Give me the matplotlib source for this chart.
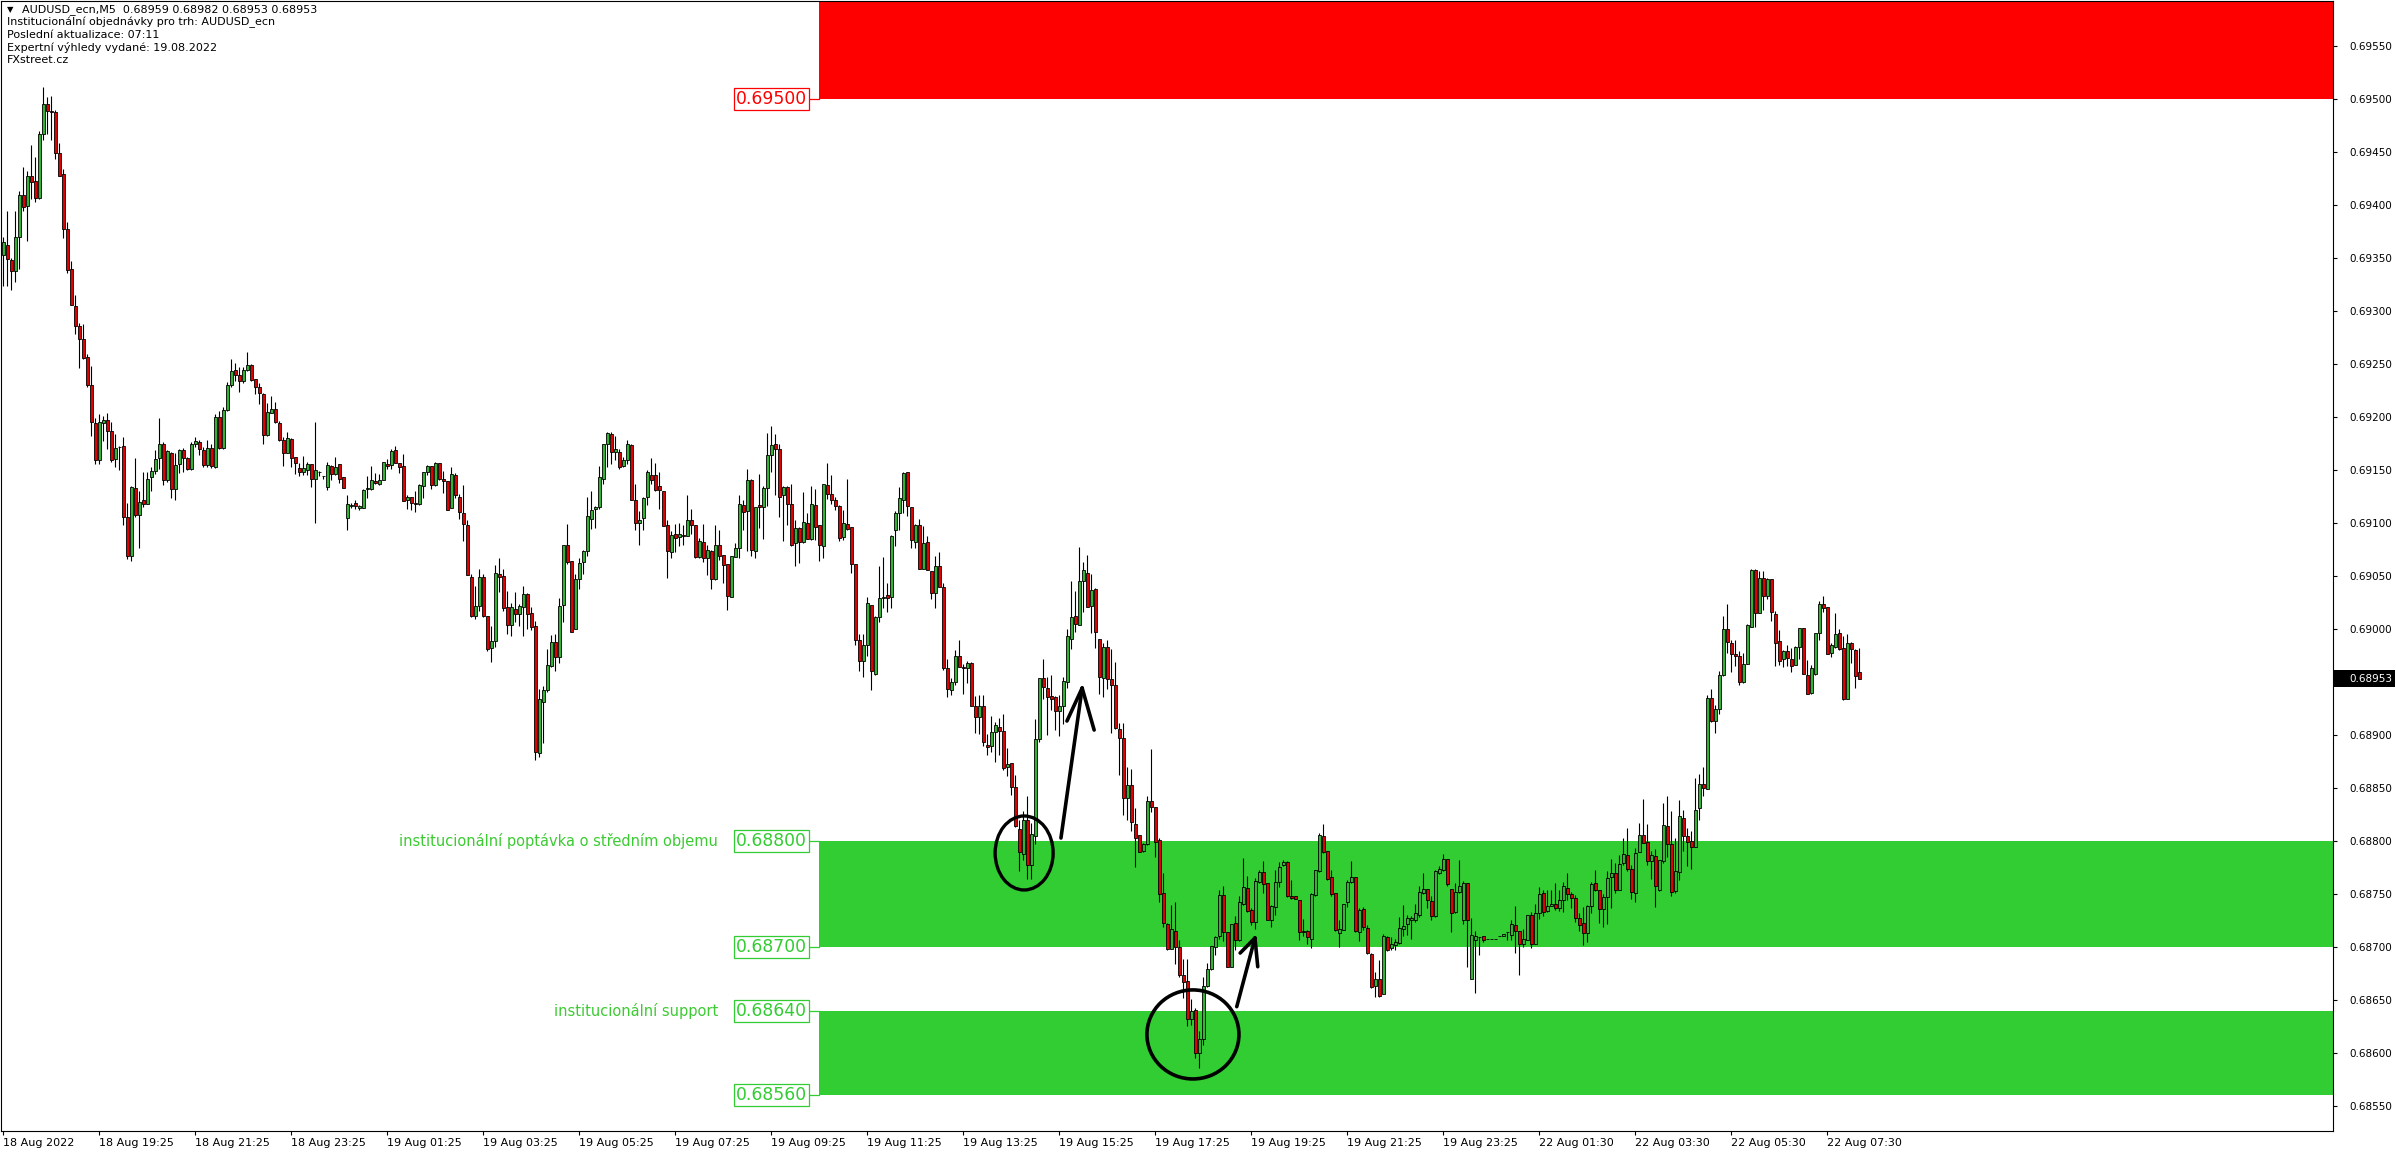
import matplotlib
matplotlib.use('Agg')
import matplotlib.pyplot as plt
import matplotlib.transforms as mtransforms
from matplotlib.patches import Rectangle, Ellipse
import numpy as np

# AUDUSD M5 candles, prices in points (1e-5)
opens = [
    69353, 69362, 69348, 69338, 69370, 69409, 69399, 69427, 69423, 69407,
    69467, 69495, 69489, 69488, 69449, 69429, 69377, 69340, 69305, 69286,
    69274, 69257, 69230, 69194, 69159, 69194, 69197, 69187, 69160, 69172,
    69173, 69106, 69069, 69133, 69108, 69122, 69118, 69143, 69149, 69161,
    69175, 69141, 69166, 69132, 69156, 69169, 69161, 69151, 69175, 69176,
    69169, 69155, 69171, 69153, 69200, 69171, 69207, 69230, 69244, 69240,
    69234, 69244, 69249, 69236, 69228, 69222, 69183, 69204, 69208, 69194,
    69178, 69166, 69179, 69162, 69152, 69148, 69150, 69156, 69142, 69148,
    69144, 69134, 69154, 69146, 69156, 69143, 69105, 69116, 69119, 69114,
    69114, 69132, 69132, 69140, 69137, 69141, 69156, 69155, 69169, 69157,
    69154, 69122, 69125, 69119, 69118, 69135, 69148, 69154, 69136, 69157,
    69142, 69140, 69114, 69145, 69125, 69109, 69098, 69049, 69012, 69022,
    69049, 69012, 68982, 68989, 69052, 69050, 69021, 69004, 69019, 69014,
    69021, 69033, 69015, 69003, 68883, 68931, 68942, 68965, 68988, 68974,
    69023, 69079, 69064, 69000, 69047, 69063, 69074, 69104, 69113, 69115,
    69142, 69175, 69184, 69167, 69167, 69154, 69159, 69174, 69122, 69100,
    69105, 69125, 69145, 69145, 69135, 69130, 69098, 69073, 69090, 69087,
    69089, 69088, 69103, 69098, 69068, 69082, 69067, 69074, 69047, 69079,
    69070, 69061, 69030, 69068, 69076, 69117, 69111, 69141, 69074, 69117,
    69115, 69133, 69164, 69175, 69170, 69126, 69134, 69118, 69081, 69095,
    69082, 69100, 69085, 69117, 69098, 69078, 69136, 69127, 69122, 69116,
    69087, 69099, 69096, 69061, 68990, 68970, 68985, 69023, 68958, 69011,
    69029, 69032, 69030, 69093, 69109, 69122, 69148, 69115, 69082, 69098,
    69057, 69082, 69055, 69034, 69059, 69040, 68963, 68942, 68950, 68975,
    68964, 68963, 68968, 68927, 68917, 68927, 68891, 68890, 68903, 68908,
    68904, 68870, 68874, 68851, 68811, 68788, 68820, 68777, 68805, 68896,
    68954, 68944, 68937, 68936, 68923, 68927, 68950, 68991, 69012, 69004,
    69045, 69053, 69022, 69038, 68991, 68954, 68983, 68953, 68947, 68906,
    68897, 68841, 68853, 68816, 68806, 68791, 68797, 68838, 68832, 68801,
    68751, 68722, 68698, 68715, 68700, 68674, 68668, 68632, 68641, 68600,
    68613, 68663, 68679, 68700, 68710, 68749, 68714, 68681, 68723, 68707,
    68741, 68756, 68735, 68724, 68761, 68771, 68760, 68725, 68738, 68761,
    68777, 68780, 68748, 68748, 68744, 68715, 68715, 68708, 68749, 68772,
    68805, 68791, 68766, 68751, 68713, 68716, 68742, 68761, 68766, 68714,
    68736, 68718, 68693, 68663, 68670, 68656, 68709, 68699, 68702, 68704,
    68717, 68722, 68725, 68725, 68730, 68751, 68755, 68743, 68729, 68770,
    68773, 68783, 68755, 68733, 68752, 68725, 68760, 68670, 68707, 68709,
    68710, 68708, 68708, 68708, 68710, 68710, 68714, 68711, 68721, 68715,
    68703, 68707, 68730, 68703, 68732, 68751, 68734, 68739, 68741, 68737,
    68744, 68756, 68750, 68746, 68727, 68723, 68713, 68739, 68760, 68754,
    68736, 68747, 68766, 68770, 68754, 68779, 68787, 68774, 68751, 68790,
    68806, 68799, 68781, 68786, 68754, 68781, 68814, 68797, 68753, 68771,
    68822, 68805, 68800, 68794, 68831, 68854, 68849, 68935, 68913, 68925,
    68957, 69000, 68987, 68976, 68975, 68950, 68967, 69002, 69056, 69015,
    69048, 69031, 69047, 69014, 68989, 68972, 68979, 68972, 68966, 68983,
    69001, 68957, 68940, 68958, 68996, 69024, 69021, 68977, 68983, 68996,
    68982, 68934, 68987, 68980, 68959,
]
highs = [
    69370, 69394, 69350, 69394, 69413, 69436, 69432, 69457, 69445, 69470,
    69511, 69502, 69503, 69490, 69459, 69434, 69384, 69347, 69315, 69289,
    69288, 69259, 69248, 69199, 69203, 69201, 69204, 69195, 69184, 69173,
    69181, 69119, 69135, 69161, 69130, 69148, 69148, 69153, 69169, 69199,
    69176, 69169, 69167, 69166, 69170, 69171, 69162, 69176, 69181, 69178,
    69172, 69178, 69175, 69203, 69206, 69209, 69233, 69255, 69251, 69247,
    69247, 69261, 69250, 69236, 69232, 69223, 69213, 69220, 69214, 69196,
    69181, 69186, 69180, 69162, 69157, 69163, 69158, 69156, 69195, 69149,
    69144, 69158, 69155, 69162, 69156, 69143, 69126, 69119, 69122, 69117,
    69132, 69144, 69154, 69147, 69146, 69158, 69160, 69170, 69173, 69157,
    69165, 69126, 69125, 69130, 69137, 69148, 69155, 69154, 69158, 69157,
    69149, 69140, 69153, 69147, 69127, 69136, 69103, 69052, 69041, 69057,
    69052, 69012, 69003, 69060, 69067, 69057, 69036, 69025, 69035, 69024,
    69041, 69034, 69021, 69008, 68943, 68946, 68981, 68994, 68995, 69029,
    69079, 69099, 69064, 69052, 69067, 69075, 69125, 69130, 69116, 69154,
    69175, 69186, 69186, 69182, 69170, 69162, 69178, 69175, 69137, 69111,
    69125, 69150, 69161, 69157, 69148, 69130, 69103, 69092, 69099, 69100,
    69098, 69126, 69113, 69098, 69086, 69099, 69079, 69075, 69098, 69093,
    69070, 69061, 69069, 69081, 69126, 69122, 69151, 69142, 69115, 69146,
    69135, 69185, 69192, 69184, 69175, 69135, 69135, 69137, 69103, 69096,
    69129, 69109, 69135, 69132, 69098, 69137, 69157, 69145, 69125, 69117,
    69112, 69142, 69096, 69061, 68995, 68995, 69030, 69023, 69012, 69059,
    69068, 69043, 69089, 69111, 69134, 69148, 69148, 69115, 69099, 69104,
    69097, 69088, 69055, 69069, 69073, 69043, 68972, 68954, 68980, 68990,
    68967, 68970, 68969, 68937, 68938, 68938, 68901, 68918, 68912, 68916,
    68920, 68888, 68874, 68862, 68820, 68828, 68842, 68817, 68915, 68954,
    68972, 68955, 68957, 68937, 68938, 68955, 69000, 69045, 69036, 69077,
    69063, 69070, 69052, 69039, 68991, 68987, 68990, 68981, 68969, 68911,
    68911, 68870, 68868, 68831, 68806, 68798, 68842, 68887, 68832, 68803,
    68770, 68723, 68740, 68742, 68707, 68689, 68689, 68651, 68642, 68621,
    68672, 68685, 68701, 68710, 68754, 68758, 68714, 68722, 68729, 68748,
    68784, 68767, 68737, 68765, 68773, 68781, 68760, 68740, 68773, 68780,
    68782, 68781, 68763, 68748, 68744, 68726, 68716, 68751, 68773, 68808,
    68816, 68791, 68773, 68751, 68725, 68741, 68763, 68781, 68766, 68737,
    68738, 68721, 68694, 68676, 68688, 68712, 68710, 68709, 68708, 68728,
    68740, 68730, 68729, 68741, 68758, 68770, 68755, 68748, 68773, 68776,
    68788, 68783, 68755, 68760, 68782, 68762, 68760, 68727, 68715, 68709,
    68710, 68708, 68708, 68708, 68710, 68712, 68714, 68725, 68739, 68715,
    68717, 68730, 68733, 68741, 68757, 68754, 68754, 68754, 68760, 68754,
    68761, 68770, 68752, 68749, 68732, 68738, 68740, 68761, 68773, 68754,
    68750, 68772, 68783, 68779, 68787, 68803, 68812, 68777, 68793, 68817,
    68840, 68816, 68791, 68792, 68782, 68836, 68842, 68828, 68803, 68839,
    68829, 68812, 68809, 68859, 68863, 68870, 68938, 68943, 68928, 68960,
    69012, 69024, 68990, 68990, 68979, 68977, 69005, 69057, 69057, 69055,
    69055, 69048, 69047, 69017, 68999, 68980, 68985, 68982, 68984, 69001,
    69001, 68971, 68966, 68996, 69026, 69031, 69021, 68987, 69015, 69000,
    68993, 68995, 68988, 68981, 68982,
]
lows = [
    69324, 69324, 69320, 69327, 69340, 69394, 69366, 69406, 69403, 69406,
    69461, 69467, 69461, 69443, 69427, 69369, 69336, 69306, 69278, 69246,
    69255, 69228, 69182, 69156, 69156, 69177, 69170, 69158, 69153, 69150,
    69098, 69066, 69064, 69106, 69076, 69115, 69118, 69130, 69146, 69151,
    69136, 69139, 69124, 69122, 69147, 69148, 69150, 69150, 69172, 69164,
    69153, 69153, 69152, 69152, 69170, 69170, 69206, 69228, 69234, 69224,
    69232, 69243, 69234, 69222, 69212, 69175, 69182, 69204, 69194, 69177,
    69154, 69166, 69153, 69146, 69144, 69145, 69145, 69134, 69100, 69144,
    69142, 69131, 69141, 69145, 69138, 69133, 69093, 69114, 69113, 69112,
    69114, 69124, 69131, 69137, 69136, 69141, 69151, 69151, 69157, 69147,
    69121, 69113, 69112, 69110, 69117, 69124, 69145, 69132, 69135, 69141,
    69128, 69112, 69114, 69124, 69104, 69083, 69051, 69011, 69009, 69017,
    69011, 68979, 68969, 68983, 69035, 69017, 68995, 68993, 69007, 69003,
    68993, 69000, 68999, 68876, 68879, 68892, 68941, 68964, 68960, 68968,
    69007, 69061, 68997, 69000, 69038, 69052, 69069, 69094, 69095, 69113,
    69137, 69153, 69156, 69159, 69151, 69153, 69156, 69122, 69093, 69079,
    69093, 69117, 69137, 69130, 69113, 69097, 69048, 69067, 69073, 69078,
    69079, 69088, 69090, 69067, 69067, 69063, 69051, 69038, 69046, 69065,
    69043, 69018, 69030, 69068, 69067, 69093, 69074, 69069, 69067, 69095,
    69085, 69116, 69148, 69126, 69106, 69083, 69098, 69078, 69059, 69062,
    69081, 69085, 69084, 69084, 69064, 69067, 69123, 69118, 69112, 69083,
    69084, 69093, 69053, 68985, 68960, 68955, 68975, 68942, 68957, 69007,
    69020, 69016, 69020, 69078, 69093, 69109, 69107, 69076, 69076, 69057,
    69057, 69056, 69028, 69020, 69040, 68961, 68936, 68938, 68947, 68964,
    68939, 68949, 68927, 68902, 68901, 68890, 68881, 68884, 68875, 68881,
    68867, 68861, 68843, 68813, 68772, 68782, 68764, 68764, 68797, 68893,
    68934, 68900, 68924, 68905, 68899, 68910, 68944, 68981, 68997, 69004,
    69016, 69021, 68996, 68982, 68939, 68936, 68943, 68902, 68906, 68862,
    68825, 68820, 68809, 68775, 68790, 68790, 68796, 68827, 68785, 68742,
    68719, 68697, 68698, 68684, 68672, 68652, 68625, 68626, 68595, 68586,
    68608, 68662, 68678, 68692, 68708, 68706, 68681, 68681, 68697, 68706,
    68740, 68733, 68721, 68717, 68760, 68751, 68725, 68719, 68730, 68757,
    68776, 68747, 68745, 68745, 68707, 68710, 68703, 68699, 68748, 68771,
    68789, 68763, 68748, 68715, 68700, 68716, 68738, 68760, 68714, 68706,
    68716, 68693, 68661, 68653, 68653, 68656, 68696, 68697, 68697, 68703,
    68710, 68711, 68708, 68724, 68728, 68750, 68737, 68725, 68728, 68769,
    68772, 68758, 68714, 68732, 68751, 68722, 68681, 68670, 68657, 68692,
    68705, 68708, 68708, 68708, 68710, 68710, 68707, 68707, 68694, 68674,
    68700, 68707, 68699, 68703, 68726, 68729, 68733, 68739, 68735, 68734,
    68733, 68744, 68737, 68724, 68715, 68702, 68705, 68732, 68753, 68723,
    68719, 68722, 68737, 68751, 68754, 68777, 68772, 68745, 68742, 68790,
    68798, 68777, 68764, 68738, 68753, 68779, 68785, 68748, 68751, 68763,
    68791, 68776, 68774, 68794, 68820, 68842, 68849, 68912, 68902, 68920,
    68956, 68977, 68959, 68965, 68947, 68949, 68967, 69002, 69002, 69015,
    69018, 69028, 69008, 68965, 68966, 68964, 68965, 68959, 68966, 68972,
    68958, 68939, 68939, 68957, 68990, 69016, 68976, 68974, 68982, 68980,
    68933, 68934, 68968, 68944, 68953,
]
closes = [
    69365, 69349, 69338, 69370, 69409, 69398, 69427, 69422, 69407, 69467,
    69495, 69489, 69488, 69449, 69427, 69377, 69339, 69306, 69286, 69274,
    69256, 69230, 69195, 69159, 69195, 69197, 69187, 69159, 69171, 69172,
    69106, 69069, 69134, 69108, 69120, 69118, 69142, 69149, 69160, 69175,
    69141, 69168, 69132, 69155, 69169, 69161, 69151, 69175, 69177, 69170,
    69155, 69171, 69154, 69200, 69171, 69207, 69230, 69243, 69240, 69234,
    69244, 69249, 69235, 69228, 69223, 69183, 69205, 69208, 69195, 69178,
    69166, 69180, 69161, 69157, 69148, 69152, 69156, 69142, 69150, 69148,
    69144, 69155, 69146, 69153, 69142, 69133, 69118, 69117, 69116, 69116,
    69131, 69133, 69141, 69138, 69141, 69158, 69154, 69168, 69157, 69153,
    69121, 69125, 69119, 69118, 69136, 69148, 69154, 69136, 69157, 69142,
    69140, 69112, 69146, 69126, 69110, 69099, 69051, 69012, 69022, 69049,
    69012, 68981, 68989, 69053, 69049, 69020, 69004, 69021, 69014, 69022,
    69033, 69014, 69002, 68884, 68934, 68942, 68966, 68988, 68974, 69022,
    69079, 69063, 68997, 69047, 69062, 69074, 69107, 69112, 69115, 69143,
    69175, 69185, 69167, 69170, 69153, 69159, 69175, 69122, 69100, 69103,
    69124, 69148, 69141, 69131, 69131, 69097, 69074, 69089, 69086, 69090,
    69088, 69103, 69098, 69068, 69083, 69067, 69075, 69047, 69079, 69069,
    69060, 69031, 69069, 69076, 69118, 69110, 69141, 69075, 69115, 69115,
    69133, 69164, 69174, 69170, 69125, 69134, 69118, 69079, 69095, 69082,
    69101, 69085, 69118, 69096, 69079, 69137, 69127, 69122, 69116, 69086,
    69100, 69094, 69061, 68990, 68970, 68985, 69025, 68960, 69011, 69029,
    69030, 69029, 69088, 69109, 69124, 69147, 69116, 69084, 69098, 69057,
    69081, 69056, 69034, 69059, 69040, 68963, 68943, 68950, 68975, 68964,
    68963, 68968, 68927, 68917, 68927, 68893, 68889, 68903, 68909, 68904,
    68869, 68873, 68851, 68814, 68790, 68820, 68777, 68807, 68896, 68954,
    68945, 68936, 68934, 68923, 68927, 68951, 68993, 69011, 69005, 69045,
    69056, 69021, 69037, 68997, 68955, 68983, 68953, 68947, 68907, 68897,
    68841, 68853, 68818, 68803, 68790, 68797, 68838, 68832, 68799, 68750,
    68723, 68698, 68717, 68700, 68674, 68667, 68632, 68640, 68600, 68613,
    68663, 68679, 68701, 68709, 68749, 68714, 68681, 68722, 68707, 68742,
    68757, 68734, 68724, 68762, 68771, 68759, 68725, 68739, 68761, 68775,
    68780, 68748, 68746, 68745, 68714, 68714, 68709, 68750, 68773, 68806,
    68790, 68764, 68750, 68716, 68717, 68741, 68761, 68766, 68715, 68735,
    68719, 68694, 68662, 68670, 68654, 68710, 68697, 68703, 68705, 68718,
    68720, 68727, 68727, 68732, 68752, 68755, 68744, 68729, 68772, 68774,
    68783, 68759, 68732, 68752, 68758, 68760, 68725, 68711, 68710, 68709,
    68707, 68708, 68708, 68708, 68710, 68712, 68714, 68722, 68715, 68703,
    68708, 68730, 68703, 68732, 68750, 68733, 68739, 68741, 68737, 68744,
    68758, 68750, 68746, 68727, 68721, 68713, 68739, 68759, 68754, 68736,
    68747, 68765, 68770, 68754, 68778, 68788, 68774, 68752, 68789, 68806,
    68798, 68781, 68787, 68758, 68782, 68815, 68797, 68752, 68772, 68824,
    68805, 68799, 68794, 68829, 68854, 68850, 68935, 68913, 68925, 68957,
    69000, 68988, 68976, 68975, 68950, 68967, 69004, 69056, 69015, 69048,
    69031, 69047, 69016, 68987, 68970, 68979, 68973, 68965, 68983, 69001,
    68958, 68939, 68963, 68996, 69024, 69020, 68976, 68985, 68995, 68981,
    68934, 68987, 68981, 68956, 68953,
]

time_labels = ['18 Aug 2022', '18 Aug 19:25', '18 Aug 21:25', '18 Aug 23:25',
               '19 Aug 01:25', '19 Aug 03:25', '19 Aug 05:25', '19 Aug 07:25',
               '19 Aug 09:25', '19 Aug 11:25', '19 Aug 13:25', '19 Aug 15:25',
               '19 Aug 17:25', '19 Aug 19:25', '19 Aug 21:25', '19 Aug 23:25',
               '22 Aug 01:30', '22 Aug 03:30', '22 Aug 05:30', '22 Aug 07:30']

# institutional zones
zone_low = [0.6950, 0.6870, 0.6856]
zone_high = [0.6960, 0.6880, 0.6864]
zone_color = ['#FF0000', '#32CD32', '#32CD32']
level_prices = [0.6950, 0.6880, 0.6870, 0.6864, 0.6856]
level_colors = ['#FF0000', '#32CD32', '#32CD32', '#32CD32', '#32CD32']
zone_names = ['institucionální poptávka o středním objemu', 'institucionální support']
zone_name_prices = [0.6880, 0.6864]

header = ['Institucionální objednávky pro trh: AUDUSD_ecn',
          'Poslední aktualizace: 07:11',
          'Expertní výhledy vydané: 19.08.2022',
          'FXstreet.cz']

o = np.array(opens) / 1e5
h = np.array(highs) / 1e5
l = np.array(lows) / 1e5
c = np.array(closes) / 1e5
assert len(o) == len(h) == len(l) == len(c)
h = np.maximum(h, np.maximum(o, c))
l = np.minimum(l, np.minimum(o, c))
x = np.arange(len(c))

W, H = 2396, 1154
fig = plt.figure(figsize=(W / 100, H / 100), dpi=100)
ax = fig.add_axes([1 / W, 23 / H, 2332 / W, 1130 / H])
xmax = 582.4
ax.set_xlim(-0.575, xmax)
ax.set_ylim(0.685264, 0.695925)

zone_start = 203.9
for lo, hi, col in zip(zone_low, zone_high, zone_color):
    ax.add_patch(Rectangle((zone_start, lo), xmax - zone_start, hi - lo,
                           facecolor=col, edgecolor='none', zorder=1))

# candles
bull = c >= o
body_col = np.where(bull, '#32B432', '#E00000')
ax.vlines(x, l, h, color='black', linewidth=0.8, zorder=2)
ax.bar(x, np.abs(c - o), bottom=np.minimum(o, c), width=0.78,
       color=body_col, edgecolor='black', linewidth=0.6, zorder=3)

# level labels
for p, col in zip(level_prices, level_colors):
    ax.text(200.9, p, '%.5f' % p, ha='right', va='center', fontsize=12.4,
            color=col, zorder=5,
            bbox=dict(boxstyle='square,pad=0.12', facecolor='white',
                      edgecolor=col, linewidth=0.9))
    ax.plot([201.4, zone_start], [p, p], color=col, linewidth=0.9, zorder=4)
for name, p in zip(zone_names, zone_name_prices):
    ax.text(178.7, p, name, ha='right', va='center', fontsize=10.5,
            color='#3CCB32', zorder=5)

# hand-drawn marks
ax.add_patch(Ellipse((255.2, 0.687887), 14.5, 0.000698, fill=False,
                     edgecolor='black', linewidth=2.4, zorder=6))
ax.add_patch(Ellipse((297.4, 0.686175), 23.0, 0.00084, fill=False,
                     edgecolor='black', linewidth=2.6, zorder=6))
arrows = [((264.4, 0.688028), (269.7, 0.689443), (265.9, 0.689132), (272.7, 0.689047)),
          ((308.35, 0.686437), (312.9, 0.687085), (309.2, 0.686943), (313.6, 0.686814))]
for tail, tip, w1, w2 in arrows:
    for a, b in [(tail, tip), (tip, w1), (tip, w2)]:
        ax.plot([a[0], b[0]], [a[1], b[1]], color='black', linewidth=2.6,
                solid_capstyle='round', zorder=6)

# axes styling
for s in ax.spines.values():
    s.set_color('black')
    s.set_linewidth(0.8)
ax.yaxis.tick_right()
ax.set_yticks(np.arange(0.6855, 0.69551, 0.0005))
ax.set_yticklabels(['%.5f' % v for v in np.arange(0.6855, 0.69551, 0.0005)])
ax.tick_params(axis='y', direction='out', length=3, width=0.8, pad=9,
               labelsize=7.5, colors='black')
ax.set_xticks(np.arange(len(time_labels)) * 24)
ax.set_xticklabels(time_labels, ha='left')
ax.tick_params(axis='x', direction='out', length=3, width=0.8, pad=2,
               labelsize=8, colors='black')

# current price tag
tr = mtransforms.blended_transform_factory(fig.transFigure, ax.transData)
last = c[-1]
ax.add_patch(Rectangle((2334 / W, last - 0.00008), 61 / W, 0.00016,
                       transform=tr, facecolor='black', edgecolor='none',
                       clip_on=False, zorder=7))
ax.text(2349 / W, last, '%.5f' % last, transform=tr, ha='left', va='center',
        fontsize=7.5, color='white', zorder=8, clip_on=False)

# header text
fig.text(7 / W, 1 - 10 / H, '\u25bc', fontsize=6, va='center')
fig.text(22 / W, 1 - 10 / H,
         'AUDUSD_ecn,M5  %.5f %.5f %.5f %.5f' % (o[-1], h[-1], l[-1], c[-1]),
         fontsize=8, va='center')
for k, line in enumerate(header):
    fig.text(7 / W, 1 - (22.5 + 12.4 * k) / H, line, fontsize=8, va='center')

fig.savefig('out.png', dpi=100)
